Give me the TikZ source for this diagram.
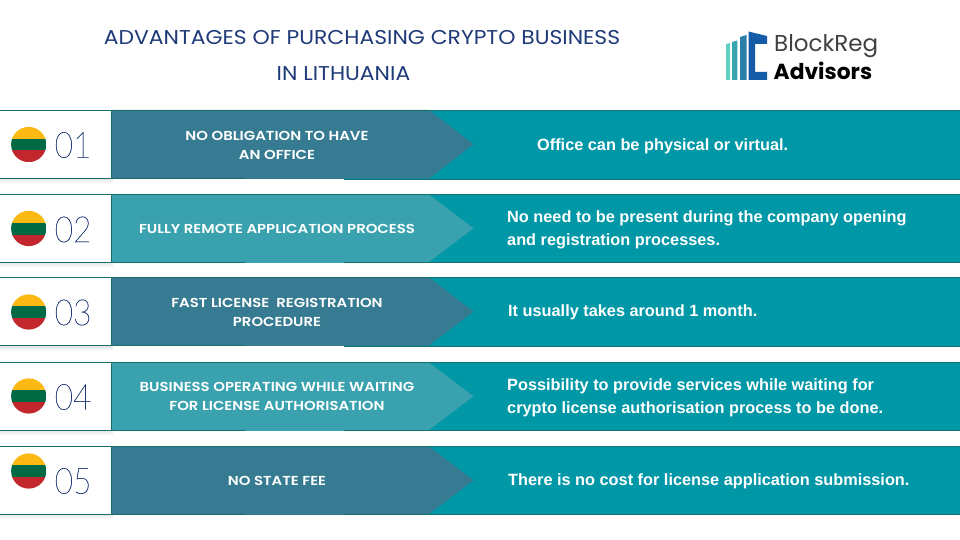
\documentclass[tikz,border=0pt]{standalone}
\usepackage{fontspec}
\setmainfont{Liberation Sans}
\newfontfamily\titlefont{Poppins}[FakeStretch=1.095]
\newfontfamily\labelfont{Poppins}[UprightFont=* SemiBold,FakeStretch=1.145]
\newfontfamily\numfont{Lato}[UprightFont=* Thin,FakeStretch=0.88,FakeBold=0.6]
\newfontfamily\bodyfont{Liberation Sans}[UprightFont=* Bold]
\newfontfamily\logofont{Poppins}
\definecolor{navy}{HTML}{1F3A78}
\definecolor{numblue}{HTML}{1F3A78}
\definecolor{rowteal}{HTML}{0097A7}
\definecolor{rowedge}{HTML}{17706C}
\definecolor{darkarrow}{HTML}{367B91}
\definecolor{lightarrow}{HTML}{3AA1AF}
\definecolor{flagyellow}{HTML}{FDB913}
\definecolor{flaggreen}{HTML}{006A44}
\definecolor{flagred}{HTML}{C1272D}
\definecolor{logoa}{HTML}{62D2C0}
\definecolor{logob}{HTML}{38A5AE}
\definecolor{logoc}{HTML}{2A80A8}
\definecolor{logod}{HTML}{145BA8}
\tikzset{
  titletext/.style={font=\titlefont\fontsize{20}{22}\selectfont,text=navy,inner sep=0pt},
  labeltext/.style={font=\labelfont\fontsize{13}{18.6}\selectfont,text=white,align=center,inner sep=0pt},
  bodytext/.style={font=\bodyfont\fontsize{16.3}{23.5}\selectfont,text=white,align=left,inner sep=0pt,anchor=west},
  numtext/.style={font=\numfont\fontsize{36}{36}\selectfont,text=numblue,inner sep=0pt,anchor=west},
}
% #1 top, #2 bottom, #3 arrow colour, #4 number, #5 flag centre y, #6 number y
\newcommand{\rowbar}[6]{%
  \foreach \s/\o in {5/.025,3.5/.03,2/.04}{
    \fill[black,opacity=\o] (0,#2) rectangle (113,#2+\s);
  }
  \fill[rowteal] (111,#1) rectangle (960,#2+.5);
  \fill[#3] (111,#1) -- (429,#1) -- (473.5,{(#1+#2)/2}) -- (429,#2) -- (111,#2) -- cycle;
  \draw[rowedge,line width=.8pt] (111,#1) -- (960,#1);
  \draw[rowedge,line width=.8pt] (111,#2) -- (245,#2);
  \fill[#3] (245,#2-.5) rectangle (344,#2+.5);
  \draw[rowedge,line width=.8pt] (344,#2+.6) -- (960,#2+.6);
  \fill[white] (0,#1) rectangle (111,#2);
  \draw[rowedge,line width=.8pt] (0,#1) -- (111,#1) -- (111,#2) -- (0,#2);
  \begin{scope}
    \clip (28.7,#5) circle (17.6);
    \fill[flagyellow] (11,#5-18) rectangle (47,#5-5.8);
    \fill[flaggreen] (11,#5-5.8) rectangle (47,#5+6);
    \fill[flagred] (11,#5+6) rectangle (47,#5+18);
  \end{scope}
  \node[numtext] (num#4) at (54.5,#6) {#4};
}
\begin{document}
\begin{tikzpicture}[x=1pt,y=-1pt]
\useasboundingbox (0,0) rectangle (960,540);
\fill[white] (0,0) rectangle (960,540);
\node[titletext] (title1) at (362,38) {ADVANTAGES OF PURCHASING CRYPTO BUSINESS};
\node[titletext] (title2) at (343.5,74) {IN LITHUANIA};
% logo
\fill[logoa] (726,44) -- (730,43) -- (730,80) -- (726,80) -- cycle;
\fill[logob] (732,42) -- (737.3,40.5) -- (737.3,80) -- (732,80) -- cycle;
\fill[logoc] (740,37) -- (746.5,35) -- (746.5,80) -- (740,80) -- cycle;
\fill[logod] (748.5,31.5) -- (767,36) -- (767,44) -- (755,44) -- (755,72) -- (767,72) -- (767,80) -- (748.5,80) -- cycle;
\node[font=\logofont\fontsize{23}{24}\selectfont,text=black!75,inner sep=0pt,anchor=west] (logo1) at (774,46) {BlockReg};
\node[font=\logofont\bfseries\fontsize{21.8}{22}\selectfont,text=black,inner sep=0pt,anchor=west] (logo2) at (773.5,71) {Advisors};
\rowbar{110}{178.5}{darkarrow}{01}{144.5}{145}
\rowbar{194.5}{262}{lightarrow}{02}{228.5}{229.5}
\rowbar{277.5}{345.5}{darkarrow}{03}{312}{312.5}
\rowbar{362.5}{430}{lightarrow}{04}{396}{397}
\rowbar{446.5}{514}{darkarrow}{05}{471}{481}
\node[labeltext] (lab1) at (277,145.5) {NO OBLIGATION TO HAVE\\AN OFFICE};
\node[labeltext] (lab2) at (277,229) {FULLY REMOTE APPLICATION PROCESS};
\node[labeltext] (lab3) at (277,312.5) {FAST LICENSE\ \ REGISTRATION\\PROCEDURE};
\node[labeltext] (lab4) at (277,396.5) {BUSINESS OPERATING WHILE WAITING\\FOR LICENSE AUTHORISATION};
\node[labeltext] (lab5) at (277,481) {NO STATE FEE};
\node[bodytext] (txt1) at (537,146) {Office can be physical or virtual.};
\node[bodytext] (txt2) at (507,230) {No need to be present during the company opening\\and registration processes.};
\node[bodytext] (txt3) at (508,312.5) {It usually takes around 1 month.};
\node[bodytext] (txt4) at (507,398) {Possibility to provide services while waiting for\\crypto license authorisation process to be done.};
\node[bodytext] (txt5) at (508,481) {There is no cost for license application submission.};
\end{tikzpicture}
\end{document}
